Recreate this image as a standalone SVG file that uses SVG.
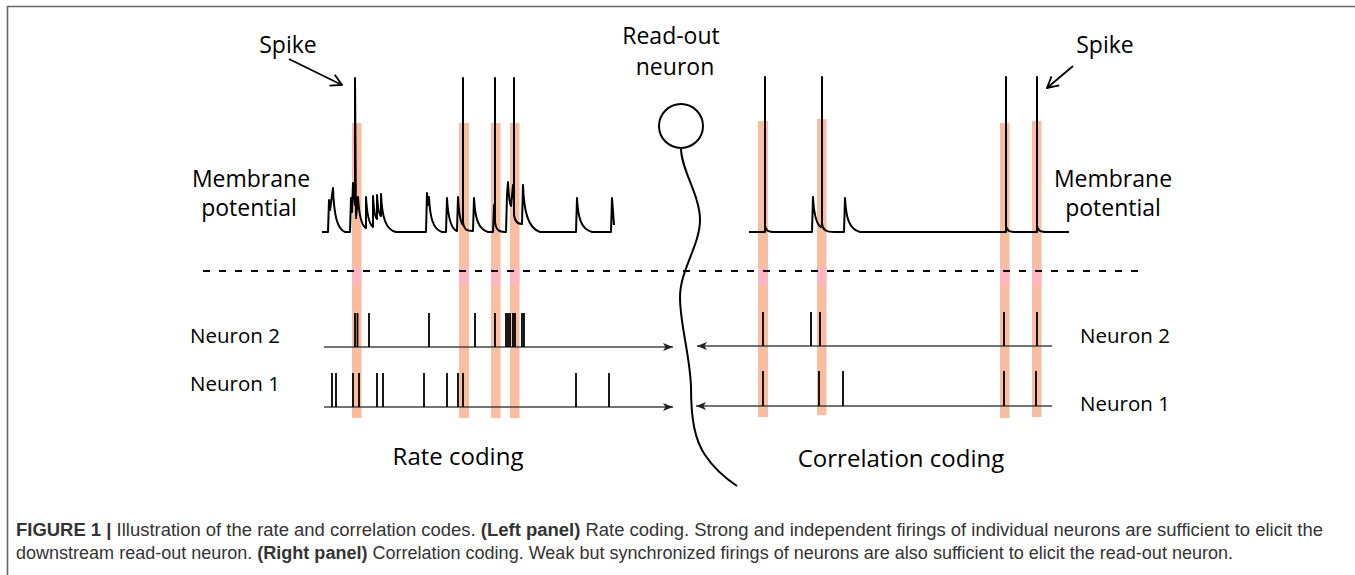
<svg xmlns="http://www.w3.org/2000/svg" width="1355" height="575" viewBox="0 0 1355 575">
  <style>
    .lbl { font-family: "Open Sans", "Noto Sans", sans-serif; fill: #000; }
    .big { font-size: 23px; }
    .title { font-size: 24px; }
    .nrn { font-size: 20.5px; }
    .cap { font-family: "Liberation Sans", Arial, sans-serif; font-size: 17.5px; fill: #333; }
    .cap .b { font-weight: bold; }
    .trace { fill: none; stroke: #000; stroke-width: 2; stroke-linejoin: round; }
    .tick { stroke: #000; stroke-width: 1.8; }
    .axis { stroke: #444; stroke-width: 1.4; fill: none; }
    .bar { fill: #F8BE9F; }
    .band { fill: #FFB6C1; }
    .ptr { stroke: #000; stroke-width: 1.8; fill: none; }
  </style>
  <defs>
    <marker id="tri" viewBox="0 0 10 8" refX="10" refY="4" markerWidth="10" markerHeight="8" markerUnits="userSpaceOnUse" orient="auto">
      <path d="M0,0 L10,4 L0,8 L2.5,4 Z" fill="#222"/>
    </marker>
    <marker id="vee" viewBox="0 0 14 14" refX="13" refY="7" markerWidth="14" markerHeight="14" markerUnits="userSpaceOnUse" orient="auto">
      <path d="M2,1 L13,7 L2,13" fill="none" stroke="#000" stroke-width="1.8"/>
    </marker>
  </defs>

  <rect width="1355" height="575" fill="#fff"/>
  <!-- figure frame -->
  <path d="M7.5,575 L7.5,6.5 L1355,6.5" fill="none" stroke="#666" stroke-width="1.6"/>

  <!-- synchrony highlight bars -->
  <g id="bars">
    <rect class="bar" x="352" y="123" width="9.5" height="295"/>
    <rect class="bar" x="459" y="123" width="10" height="295"/>
    <rect class="bar" x="491" y="123" width="9.5" height="295"/>
    <rect class="bar" x="510" y="123" width="9.5" height="295"/>
    <rect class="bar" x="758" y="121" width="10" height="296"/>
    <rect class="bar" x="817" y="119" width="9.5" height="296"/>
    <rect class="bar" x="1000" y="123" width="9.5" height="295"/>
    <rect class="bar" x="1032" y="121" width="9.5" height="296"/>
    <rect class="band" x="352" y="267" width="9.5" height="18"/>
    <rect class="band" x="459" y="267" width="10" height="18"/>
    <rect class="band" x="491" y="267" width="9.5" height="18"/>
    <rect class="band" x="510" y="267" width="9.5" height="18"/>
    <rect class="band" x="758" y="267" width="10" height="18"/>
    <rect class="band" x="817" y="267" width="9.5" height="18"/>
    <rect class="band" x="1000" y="267" width="9.5" height="18"/>
    <rect class="band" x="1032" y="267" width="9.5" height="18"/>
  </g>

  <!-- divider -->
  <line x1="203" y1="271" x2="1145" y2="271" stroke="#000" stroke-width="2" stroke-dasharray="7 9"/>

  <!-- read-out neuron -->
  <g id="readout">
    <circle cx="681" cy="126" r="22" fill="#fff" stroke="#000" stroke-width="2"/>
    <path d="M681,148 C681,170 700,195 700,220 C700,245 680,270 680,297 C680,325 690,355 691,387 C691,420 695,440 705,455 C715,470 728,480 737,486" fill="none" stroke="#000" stroke-width="2"/>
    <text class="lbl big" x="671" y="44" text-anchor="middle">Read-out</text>
    <text class="lbl big" x="675" y="75" text-anchor="middle">neuron</text>
  </g>

  <!-- rate coding panel -->
  <g id="rate-panel">
    <path class="trace" d="M322,232 L328,232 L329,200 L330,210 L333,188 C334,215 337,229 345,232 L350,232 L351,198 L352,212 L353,183 L355,205 L355,78 L356,218 L358,197 C359,215 362,226 366,228 L366,197 C367,215 370,225 373,227 L373,196 C374,212 375,218 377,219 L377,195 C378,210 379,215 381,216 L381,194 C382,218 386,230 396,232 L426,232 L427,193 L428,205 L429,197 C430,218 433,229 442,232 L446,232 L447,198 C448,218 451,229 457,231 L458,197 C459,215 461,223 463,225 L463,78 L463,222 C464,230 467,231 473,231 L474,198 C475,218 478,229 488,232 L493,232 L494,205 L495,215 L495,78 L495,222 C496,230 499,232 505,232 L506,232 L507,195 L508,182 C509,200 510,205 511,206 L513,185 L514,200 L514,78 L514,215 C515,222 518,224 522,224 L523,185 C524,212 528,228 540,232 L576,232 L577,198 C578,218 581,229 592,232 L611,232 L612,198 L614,225"/>
    <line class="ptr" x1="289" y1="59" x2="342" y2="85" marker-end="url(#vee)"/>
    <text class="lbl big" x="288" y="53" text-anchor="middle">Spike</text>
    <text class="lbl big" x="251" y="187" text-anchor="middle">Membrane</text>
    <text class="lbl big" x="249" y="216" text-anchor="middle">potential</text>

    <g id="rate-neuron2">
      <line class="axis" x1="324" y1="347" x2="673" y2="347" marker-end="url(#tri)"/>
      <path class="tick" d="M355,313V347 M357.5,313V347 M369,313V347 M429,313V347 M475,313V347 M495,313V347 M506,313V347 M508,313V347 M510,313V347 M513,313V347 M515,313V347 M522,313V347 M524,313V347"/>
      <text class="lbl nrn" x="190" y="343">Neuron 2</text>
    </g>
    <g id="rate-neuron1">
      <line class="axis" x1="324" y1="407" x2="673" y2="407" marker-end="url(#tri)"/>
      <path class="tick" d="M332,373V407 M336,373V407 M353,373V407 M359,373V407 M377,373V407 M383,373V407 M424,373V407 M447,373V407 M458,373V407 M463,373V407 M576,373V407 M609,373V407"/>
      <text class="lbl nrn" x="190" y="391">Neuron 1</text>
    </g>
    <text class="lbl title" x="458" y="465" text-anchor="middle">Rate coding</text>
  </g>

  <!-- correlation coding panel -->
  <g id="corr-panel">
    <path class="trace" d="M749,232 L765,232 L765,77 L765,226 C766,231 768,232 776,232 L812,232 L813,197 C814,215 817,225 821,227 L822,225 L822,77 L822,224 C823,230 826,232 834,232 L844,232 L845,198 C846,218 849,229 860,232 L1006,232 L1006,77 L1006,226 C1007,231 1009,232 1017,232 L1037,232 L1037,77 L1037,226 C1038,231 1040,232 1048,232 L1069,232"/>
    <line class="ptr" x1="1073" y1="66" x2="1047" y2="88" marker-end="url(#vee)"/>
    <text class="lbl big" x="1105" y="53" text-anchor="middle">Spike</text>
    <text class="lbl big" x="1113" y="187" text-anchor="middle">Membrane</text>
    <text class="lbl big" x="1113" y="216" text-anchor="middle">potential</text>

    <g id="corr-neuron2">
      <line class="axis" x1="1052" y1="346" x2="697" y2="346" marker-end="url(#tri)"/>
      <path class="tick" d="M763,312V346 M811,312V346 M820,312V346 M1004,312V346 M1037,312V346"/>
      <text class="lbl nrn" x="1080" y="343">Neuron 2</text>
    </g>
    <g id="corr-neuron1">
      <line class="axis" x1="1052" y1="406" x2="696" y2="406" marker-end="url(#tri)"/>
      <path class="tick" d="M763,371V406 M819,371V406 M843,371V406 M1004,371V406 M1036,371V406"/>
      <text class="lbl nrn" x="1080" y="411">Neuron 1</text>
    </g>
    <text class="lbl title" x="901" y="467" text-anchor="middle">Correlation coding</text>
  </g>

  <!-- caption -->
  <g id="caption">
    <text class="cap" x="16" y="536" textLength="1307" lengthAdjust="spacingAndGlyphs"><tspan class="b">FIGURE 1 |</tspan> Illustration of the rate and correlation codes. <tspan class="b">(Left panel)</tspan> Rate coding. Strong and independent firings of individual neurons are sufficient to elicit the</text>
    <text class="cap" x="16" y="559" textLength="1217" lengthAdjust="spacingAndGlyphs">downstream read-out neuron. <tspan class="b">(Right panel)</tspan> Correlation coding. Weak but synchronized firings of neurons are also sufficient to elicit the read-out neuron.</text>
  </g>
</svg>
